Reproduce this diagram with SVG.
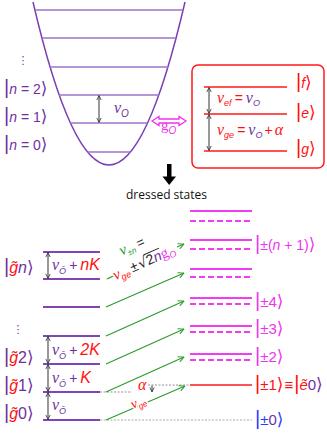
<svg xmlns="http://www.w3.org/2000/svg" width="327" height="434" viewBox="0 0 327 434">
<style>
.s{font-family:"Liberation Sans",Arial,sans-serif}
.v{font-family:"Liberation Serif","Times New Roman",serif;font-style:italic}
.i{font-style:italic}
.br{font-family:"Liberation Sans",Arial,sans-serif;font-size:20px;font-style:normal}
.an{font-family:"DejaVu Sans",sans-serif;font-size:17px;font-style:normal}
.pu{fill:#7030a0}.rd{fill:#ff1010}.mg{fill:#ee33ee}.gr{fill:#22992a}.bl{fill:#2a3cff}.bk{fill:#222}
.lt{stroke:#9d74cc;stroke-width:1.3;fill:none}
.lv{stroke:#7f45b8;stroke-width:2}
.ms{stroke:#f23cf2;stroke-width:2}
.md{stroke:#f23cf2;stroke-width:2;stroke-dasharray:6 3}
.rl{stroke:#ff1a1a;stroke-width:1.5}
.da{stroke:#333;stroke-width:1;marker-start:url(#ak);marker-end:url(#ak)}
.ga{stroke:#2a9a2a;stroke-width:1.1;marker-end:url(#ag)}
</style>
<defs>
<marker id="ak" viewBox="0 0 10 10" refX="9.3" refY="5" markerWidth="5.5" markerHeight="5.5" markerUnits="userSpaceOnUse" orient="auto-start-reverse"><path d="M1,1 L9,5 L1,9" fill="none" stroke="#333" stroke-width="1.5"/></marker>
<marker id="ag" viewBox="0 0 10 10" refX="9.3" refY="5" markerWidth="7" markerHeight="7" markerUnits="userSpaceOnUse" orient="auto"><path d="M1,1 L9,5 L1,9" fill="none" stroke="#2a9a2a" stroke-width="1.4"/></marker>
</defs>
<rect width="327" height="434" fill="#fff"/>

<g id="oscillator">
<path d="M33,2 Q109,328 185,2" fill="none" stroke="#7b3fb5" stroke-width="1.5"/>
<line class="lt" x1="35" y1="10" x2="183" y2="10"/>
<line class="lt" x1="42" y1="38" x2="176" y2="38"/>
<line class="lt" x1="50" y1="67" x2="168" y2="67"/>
<line class="lt" x1="59" y1="95" x2="159" y2="95"/>
<line class="lt" x1="70.5" y1="123" x2="147.5" y2="123"/>
<line class="lt" x1="87.5" y1="152" x2="130.5" y2="152"/>
<text class="pu" x="23" y="64" font-family="DejaVu Sans" font-size="11" text-anchor="middle">⋮</text>
<text class="s pu" x="4" y="94" font-size="14"><tspan class="br">|</tspan><tspan class="i">n</tspan> = 2<tspan class="an">⟩</tspan></text>
<text class="s pu" x="4" y="122" font-size="14"><tspan class="br">|</tspan><tspan class="i">n</tspan> = 1<tspan class="an">⟩</tspan></text>
<text class="s pu" x="4" y="150" font-size="14"><tspan class="br">|</tspan><tspan class="i">n</tspan> = 0<tspan class="an">⟩</tspan></text>
<text class="pu" x="114" y="113"><tspan class="v" font-size="16">ν</tspan><tspan class="s i" font-size="10" dy="4">O</tspan></text>
</g>

<g id="qubit">
<rect x="192" y="65" width="132" height="103" rx="6" fill="#fff" stroke="#ff1a1a" stroke-width="1.5"/>
<line class="rl" x1="204" y1="87" x2="287" y2="87"/>
<line class="rl" x1="204" y1="114" x2="287" y2="114"/>
<line class="rl" x1="204" y1="151" x2="287" y2="151"/>
<text class="s rd" x="217" y="103" font-size="14"><tspan class="v" font-size="16">ν</tspan><tspan class="i" font-size="9" dy="3">ef</tspan><tspan dy="-3" dx="3">=</tspan><tspan class="v pu" font-size="16" dx="3">ν</tspan><tspan class="i pu" font-size="9" dy="3">O</tspan></text>
<text class="s rd" x="217" y="135" font-size="14"><tspan class="v" font-size="16">ν</tspan><tspan class="i" font-size="9" dy="3">ge</tspan><tspan dy="-3" dx="3">=</tspan><tspan class="v pu" font-size="16" dx="3">ν</tspan><tspan class="i pu" font-size="9" dy="3">O</tspan><tspan dy="-3" dx="2">+</tspan><tspan class="v" font-size="16" dx="2">α</tspan></text>
<text class="s rd" x="296" y="88" font-size="14"><tspan class="br">|</tspan><tspan class="i">f</tspan><tspan class="an">⟩</tspan></text>
<text class="s rd" x="296" y="118" font-size="14"><tspan class="br">|</tspan><tspan class="i">e</tspan><tspan class="an">⟩</tspan></text>
<text class="s rd" x="296" y="154" font-size="14"><tspan class="br">|</tspan><tspan class="i">g</tspan><tspan class="an">⟩</tspan></text>
</g>

<g id="coupling-label">
<text class="mg" x="161" y="130"><tspan font-family="Liberation Serif" font-size="15">g</tspan><tspan class="s i" font-size="10" dy="4">O</tspan></text>
</g>

<g id="dressed-title">
<text x="166.5" y="199" font-family="Open Sans" font-size="12" fill="#111" text-anchor="middle">dressed states</text>
</g>

<g id="bare-levels">
<line class="lv" x1="43" y1="252" x2="100" y2="252"/>
<line class="lv" x1="43" y1="279" x2="100" y2="279"/>
<line class="lv" x1="43" y1="307" x2="100" y2="307"/>
<line class="lv" x1="43" y1="336" x2="100" y2="336"/>
<line class="lv" x1="43" y1="364" x2="100" y2="364"/>
<line class="lv" x1="43" y1="392" x2="100" y2="392"/>
<line class="lv" x1="43" y1="420" x2="100" y2="420"/>
<line x1="100" y1="392" x2="132" y2="392" stroke="#888" stroke-width="0.9" stroke-dasharray="2 1.5"/>
<line x1="100" y1="420" x2="252" y2="420" stroke="#aaa" stroke-width="1.2" stroke-dasharray="2 1.5"/>
<line x1="148" y1="385" x2="190" y2="385" stroke="#888" stroke-width="0.9" stroke-dasharray="2 1.5"/>
</g>

<g id="bare-labels">
<text class="pu" x="18" y="333" font-family="DejaVu Sans" font-size="11" text-anchor="middle">⋮</text>
<text class="s pu" x="4" y="273" font-size="16"><tspan class="br" font-size="22">|</tspan><tspan class="i rd">g&#x303;</tspan><tspan class="i">n</tspan><tspan class="an" font-size="19">⟩</tspan></text>
<text class="s pu" x="4" y="363" font-size="16"><tspan class="br" font-size="22">|</tspan><tspan class="i rd">g&#x303;</tspan>2<tspan class="an" font-size="19">⟩</tspan></text>
<text class="s pu" x="4" y="391" font-size="16"><tspan class="br" font-size="22">|</tspan><tspan class="i rd">g&#x303;</tspan>1<tspan class="an" font-size="19">⟩</tspan></text>
<text class="s pu" x="4" y="419" font-size="16"><tspan class="br" font-size="22">|</tspan><tspan class="i rd">g&#x303;</tspan>0<tspan class="an" font-size="19">⟩</tspan></text>
<text class="s pu" x="52" y="270" font-size="14"><tspan class="v" font-size="16">ν</tspan><tspan class="i" font-size="9" dy="4">Õ</tspan><tspan dy="-4" dx="3">+</tspan><tspan class="i rd" font-size="16" dx="3">nK</tspan></text>
<text class="s pu" x="52" y="355" font-size="14"><tspan class="v" font-size="16">ν</tspan><tspan class="i" font-size="9" dy="4">Õ</tspan><tspan dy="-4" dx="3">+</tspan><tspan class="i rd" font-size="16" dx="3">2K</tspan></text>
<text class="s pu" x="52" y="383" font-size="14"><tspan class="v" font-size="16">ν</tspan><tspan class="i" font-size="9" dy="4">Õ</tspan><tspan dy="-4" dx="3">+</tspan><tspan class="i rd" font-size="16" dx="3">K</tspan></text>
<text class="s pu" x="52" y="410" font-size="14"><tspan class="v" font-size="16">ν</tspan><tspan class="i" font-size="9" dy="4">Õ</tspan></text>
</g>

<g id="dressed-levels">
<line class="ms" x1="190" y1="211" x2="252" y2="211"/><line class="md" x1="190" y1="221" x2="252" y2="221"/>
<line class="ms" x1="190" y1="240" x2="252" y2="240"/><line class="md" x1="190" y1="249" x2="252" y2="249"/>
<line class="ms" x1="190" y1="269" x2="252" y2="269"/><line class="md" x1="190" y1="277" x2="252" y2="277"/>
<line class="ms" x1="190" y1="298" x2="252" y2="298"/><line class="md" x1="190" y1="304" x2="252" y2="304"/>
<line class="ms" x1="190" y1="326" x2="252" y2="326"/><line class="md" x1="190" y1="332" x2="252" y2="332"/>
<line class="ms" x1="190" y1="354" x2="252" y2="354"/><line class="md" x1="190" y1="360" x2="252" y2="360"/>
<line class="rl" x1="190" y1="385" x2="252" y2="385" stroke-width="1.6"/>
</g>

<g id="dressed-labels">
<text class="s mg" x="255" y="250" font-size="14"><tspan class="br">|</tspan>±(<tspan class="i">n</tspan> + 1)<tspan class="an">⟩</tspan></text>
<text class="s mg" x="255" y="307" font-size="15"><tspan class="br">|</tspan>±4<tspan class="an">⟩</tspan></text>
<text class="s mg" x="255" y="334" font-size="15"><tspan class="br">|</tspan>±3<tspan class="an">⟩</tspan></text>
<text class="s mg" x="255" y="362" font-size="15"><tspan class="br">|</tspan>±2<tspan class="an">⟩</tspan></text>
<text class="s rd" x="255" y="390" font-size="15"><tspan class="br">|</tspan>±1<tspan class="an">⟩</tspan><tspan dx="1">≡</tspan><tspan class="br" dx="1">|</tspan><tspan class="i">ẽ</tspan><tspan class="pu">0</tspan><tspan class="an pu">⟩</tspan></text>
<text class="s bl" x="255" y="425" font-size="15"><tspan class="br">|</tspan>±<tspan class="pu">0</tspan><tspan class="an">⟩</tspan></text>
</g>

<g id="connectors">
<line class="da" x1="99" y1="95.5" x2="99" y2="122.5"/>
<line class="da" x1="209" y1="87.5" x2="209" y2="113.5"/>
<line class="da" x1="209" y1="114.5" x2="209" y2="150.5"/>
<line class="da" x1="48" y1="252.5" x2="48" y2="278.5"/>
<line class="da" x1="48" y1="336.5" x2="48" y2="363.5"/>
<line class="da" x1="48" y1="364.5" x2="48" y2="391.5"/>
<line class="da" x1="48" y1="392.5" x2="48" y2="419.5"/>
<line x1="152" y1="385.5" x2="152" y2="392" stroke="#333" stroke-width="1" marker-end="url(#ak)"/>
<polygon points="152,121 159,116.5 159,119 179,119 179,116.5 186,121 179,125.5 179,123 159,123 159,125.5" fill="#fff" stroke="#ee33ee" stroke-width="1.3"/>
<polygon points="167,164 171.5,164 171.5,176.5 176,176.5 169.2,185 162.5,176.5 167,176.5" fill="#000"/>
<line class="ga" x1="106" y1="307" x2="184" y2="273"/>
<line class="ga" x1="106" y1="336" x2="184" y2="301"/>
<line class="ga" x1="106" y1="364" x2="184" y2="329"/>
<line class="ga" x1="106" y1="392" x2="184" y2="357"/>
<line class="ga" x1="106" y1="420" x2="185" y2="386"/>
<line class="ga" x1="177" y1="247" x2="184" y2="244"/>
<text class="s rd" x="138" y="390" font-size="14"><tspan class="v" font-size="16">α</tspan></text>
<g transform="translate(106,279) rotate(-24.2)">
<text class="s gr" x="24" y="-15" font-size="13"><tspan class="v" font-size="15">ν</tspan><tspan font-size="8" dy="3">±<tspan class="i">n</tspan></tspan><tspan class="bk" dy="-3" dx="3">=</tspan></text>
<text class="s" x="0" y="5" font-size="14"><tspan class="gr">−</tspan><tspan class="v rd" font-size="15">ν</tspan><tspan class="i rd" font-size="9" dy="3">ge</tspan><tspan class="bk" dy="-3" dx="2">±</tspan><tspan class="bk" dx="1" font-family="DejaVu Sans">√</tspan><tspan class="bk">2</tspan><tspan class="i pu">n</tspan><tspan class="mg" font-family="Liberation Serif" font-size="15">g</tspan><tspan class="mg i" font-size="9" dy="3">O</tspan></text>
<line x1="44" y1="-6.5" x2="61" y2="-6.5" stroke="#222" stroke-width="0.9"/>
</g>
<g transform="translate(133,409) rotate(-24.2)">
<text class="rd" x="0" y="0" stroke="#fff" stroke-width="3" paint-order="stroke"><tspan class="v" font-size="14">ν</tspan><tspan class="s i" font-size="8" dy="3">ge</tspan></text>
</g>
</g>
</svg>
